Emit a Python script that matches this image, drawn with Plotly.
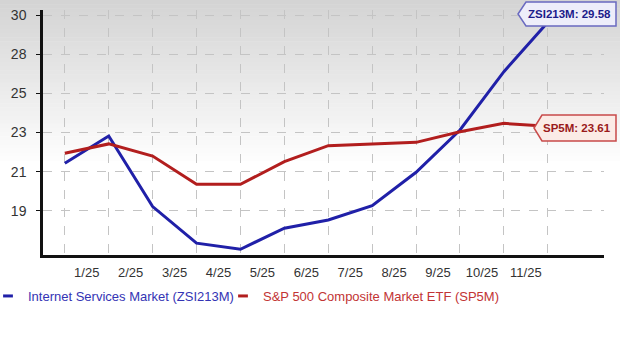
import plotly.graph_objects as go

# ---- data ----
x_points = list(range(12))
internet_services = [21.49, 23.05, 19.0, 16.9, 16.55, 17.76, 18.23, 19.05, 20.97, 23.4, 26.75, 29.58]
sp500 = [22.06, 22.6, 21.9, 20.28, 20.28, 21.58, 22.5, 22.6, 22.69, 23.3, 23.78, 23.61]
month_labels = ["1/25", "2/25", "3/25", "4/25", "5/25", "6/25", "7/25", "8/25", "9/25", "10/25", "11/25"]
y_tickvals = [30, 27.75, 25.5, 23.25, 21, 18.75]
y_ticktext = ["30", "28", "25", "23", "21", "19"]
series_names = ["Internet Services Market (ZSI213M)", "S&P 500 Composite Market ETF (SP5M)"]
series_codes = ["ZSI213M", "SP5M"]

BLUE = "#2020a8"
RED = "#b21e1e"
FONT = "Liberation Sans, Arial, sans-serif"

W, H = 620, 349
L, R, T, B = 43, 16, 10, 94
PW, PH = W - L - R, H - T - B


def px(xp):
    return (xp - L) / PW


def py(yp):
    return (H - B - yp) / PH


fig = go.Figure()
fig.add_trace(go.Scatter(x=x_points, y=internet_services, mode="lines",
                         line=dict(color=BLUE, width=3), showlegend=False, legendgroup="a"))
fig.add_trace(go.Scatter(x=x_points, y=sp500, mode="lines",
                         line=dict(color=RED, width=3), showlegend=False, legendgroup="b"))
# legend entries (short dash symbols)
fig.add_trace(go.Scatter(x=[None], y=[None], mode="markers", legendgroup="a", legend="legend",
                         marker=dict(symbol="line-ew", size=7, line=dict(color=BLUE, width=3)),
                         name=f"<span style='color:#3434b4'>{series_names[0]}</span>"))
fig.add_trace(go.Scatter(x=[None], y=[None], mode="markers", legendgroup="b", legend="legend2",
                         marker=dict(symbol="line-ew", size=7, line=dict(color=RED, width=3)),
                         name=f"<span style='color:#c23434'>{series_names[1]}</span>"))

shapes = []
# gradient background (gray top to white)
n = 40
for i in range(n):
    y0 = i * 165 / n
    y1 = (i + 1) * 165 / n
    t = i / (n - 1)
    c = int(212 + (255 - 212) * t)
    shapes.append(dict(type="rect", xref="paper", yref="paper",
                       x0=px(0), x1=px(W), y0=py(y1 + 0.5), y1=py(y0),
                       fillcolor=f"rgb({c},{c},{c})", line=dict(width=0), layer="below"))


def callout(x_left, y_top, x_right, y_bot, tip, fill, border):
    ym = (y_top + y_bot) / 2
    pts = [(x_left, ym), (x_left + tip, y_top), (x_right, y_top), (x_right, y_bot), (x_left + tip, y_bot)]
    path = "M " + " L ".join(f"{px(a)},{py(b)}" for a, b in pts) + " Z"
    return dict(type="path", xref="paper", yref="paper", path=path,
                fillcolor=fill, line=dict(color=border, width=1.5), layer="above")


shapes.append(callout(518, 2, 616, 26, 8, "#eeeefa", "#6a6ac0"))
shapes.append(callout(534, 115, 616, 141, 8, "#fbebe6", "#c84a4a"))

annotations = [
    dict(xref="paper", yref="paper", x=px(569), y=py(14), text=f"<b>{series_codes[0]}: {internet_services[-1]:.2f}</b>",
         showarrow=False, font=dict(family=FONT, size=11.5, color="#1c1c8a"), xanchor="center", yanchor="middle"),
    dict(xref="paper", yref="paper", x=px(577), y=py(128), text=f"<b>{series_codes[1]}: {sp500[-1]:.2f}</b>",
         showarrow=False, font=dict(family=FONT, size=11.5, color="#9a1a1a"), xanchor="center", yanchor="middle"),
]

legend_common = dict(orientation="h", xanchor="left", yanchor="middle",
                     font=dict(family=FONT, size=13), itemwidth=30, bgcolor="rgba(0,0,0,0)")

fig.update_layout(
    width=W, height=H,
    margin=dict(l=L, r=R, t=T, b=B, autoexpand=False),
    paper_bgcolor="white",
    plot_bgcolor="rgba(0,0,0,0)",
    shapes=shapes,
    annotations=annotations,
    showlegend=True,
    legend=dict(x=px(-12), y=py(296), **legend_common),
    legend2=dict(x=px(223), y=py(296), **legend_common),
    font=dict(family=FONT, size=13, color="#333333"),
)

fig.update_xaxes(
    range=[-0.497, 12.28],
    tickvals=[i + 0.5 for i in range(len(month_labels))],
    ticktext=month_labels,
    showgrid=False, zeroline=False, automargin=False,
    showline=True, linecolor="#111111", linewidth=2.5,
    ticks="outside", ticklen=4, tickcolor="rgba(0,0,0,0)",
    tickfont=dict(family=FONT, size=13, color="#333333"),
    minor=dict(tickvals=x_points, showgrid=True, gridcolor="#c4c4c4", griddash="dash", gridwidth=1),
)
fig.update_yaxes(
    range=[16.22, 30.29],
    tickvals=y_tickvals, ticktext=y_ticktext,
    showgrid=True, gridcolor="#c4c4c4", griddash="dash", gridwidth=1,
    zeroline=False, automargin=False,
    showline=True, linecolor="#111111", linewidth=2.5,
    ticks="outside", ticklen=4, tickcolor="#111111",
    ticklabelstandoff=7,
    tickfont=dict(family=FONT, size=14, color="#333333"),
)

fig.write_html("out.html")
